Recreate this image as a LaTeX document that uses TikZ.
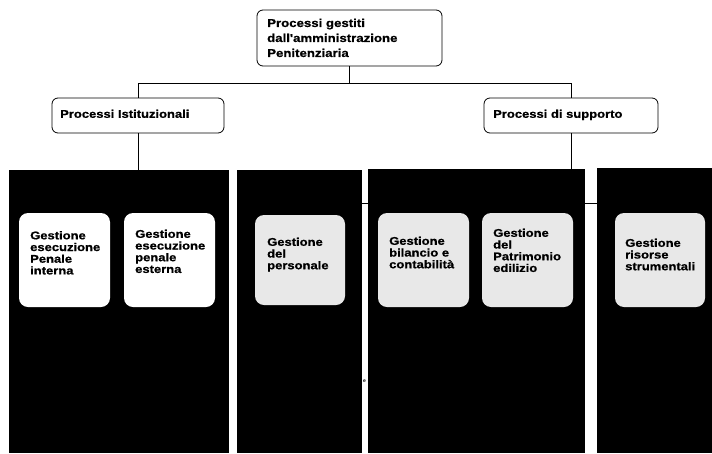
\documentclass[tikz,border=0pt]{standalone}
\usepackage{fontspec}
\setmainfont{Liberation Sans}
\newfontfamily\labfont[FakeStretch=1.16,BoldFeatures={FakeBold=0.8}]{Liberation Sans}
\begin{document}
\begin{tikzpicture}[x=1pt,y=-1pt,
  hdr/.style={draw=black, line width=0.8pt, rounded corners=6pt, fill=white, inner sep=0pt},
  panel/.style={fill=black, draw=none, inner sep=0pt},
  card/.style={fill=white, draw=none, rounded corners=9pt, inner sep=0pt},
  gcard/.style={card, fill=black!9},
  lab/.style={font=\labfont\bfseries\fontsize{11.2}{11.7}\selectfont, align=left, anchor=north west, inner sep=0pt},
  toplab/.style={lab, font=\labfont\bfseries\fontsize{11.4}{15}\selectfont},
  conn/.style={draw=black, line width=0.8pt}]
\useasboundingbox (0,0) rectangle (712,453);
\fill[white] (0,0) rectangle (712,453);

% header boxes
\node[hdr, minimum width=185pt, minimum height=56pt] (top) at (349.5,38) {};
\node[toplab] (toptxt) at (267,18.5) {Processi gestiti\\dall'amministrazione\\Penitenziaria};
\node[hdr, minimum width=172pt, minimum height=35pt] (ist) at (138,115.5) {};
\node[lab] (isttxt) at (60,109.5) {Processi Istituzionali};
\node[hdr, minimum width=174pt, minimum height=35pt] (sup) at (571,115.5) {};
\node[lab] (suptxt) at (493,109.5) {Processi di supporto};

% black panels
\node[panel, minimum width=220pt, minimum height=283pt] (p1) at (119,311.5) {};
\node[panel, minimum width=125pt, minimum height=283pt] (p2) at (299.5,311.5) {};
\node[panel, minimum width=217pt, minimum height=284pt] (p3) at (476.5,311) {};
\node[panel, minimum width=115pt, minimum height=285pt] (p4) at (654.5,310.5) {};

% connectors
\coordinate (hy) at (0,83);
\coordinate (ly) at (0,203.5);
\draw[conn] (top.south) -- (top.south |- hy) -- (ist.north |- hy) -- (ist.north);
\draw[conn] (top.south |- hy) -- (sup.north |- hy) -- (sup.north);
\draw[conn] (ist.south) -- (ist.south |- p1.north);
\draw[conn] (sup.south) -- (sup.south |- p3.north);
\draw[conn] (p2.east |- ly) -- (p3.west |- ly);
\draw[conn] (p3.east |- ly) -- (p4.west |- ly);

% cards
\node[card, minimum width=91pt, minimum height=94pt] (a) at (64.5,260) {};
\node[lab] (atxt) at (30,231) {Gestione\\esecuzione\\Penale\\interna};
\node[card, minimum width=91pt, minimum height=94pt] (b) at (169.5,260) {};
\node[lab] (btxt) at (135,229.5) {Gestione\\esecuzione\\penale\\esterna};
\node[gcard, minimum width=90pt, minimum height=90pt] (c) at (300,260) {};
\node[lab] (ctxt) at (267,237.5) {Gestione\\del\\personale};
\node[gcard, minimum width=91pt, minimum height=94pt] (d) at (423.5,260) {};
\node[lab] (dtxt) at (389,236.5) {Gestione\\bilancio e\\contabilità};
\node[gcard, minimum width=91pt, minimum height=94pt] (e) at (527.5,260) {};
\node[lab] (etxt) at (493,228.5) {Gestione\\del\\Patrimonio\\edilizio};
\node[gcard, minimum width=90pt, minimum height=94pt] (f) at (660,260) {};
\node[lab] (ftxt) at (625,238.5) {Gestione\\risorse\\strumentali};

% stray mark
\node[inner sep=0pt, font=\bfseries\fontsize{5}{5}\selectfont] (stray) at (364.5,381.5) {e};
\end{tikzpicture}
\end{document}
